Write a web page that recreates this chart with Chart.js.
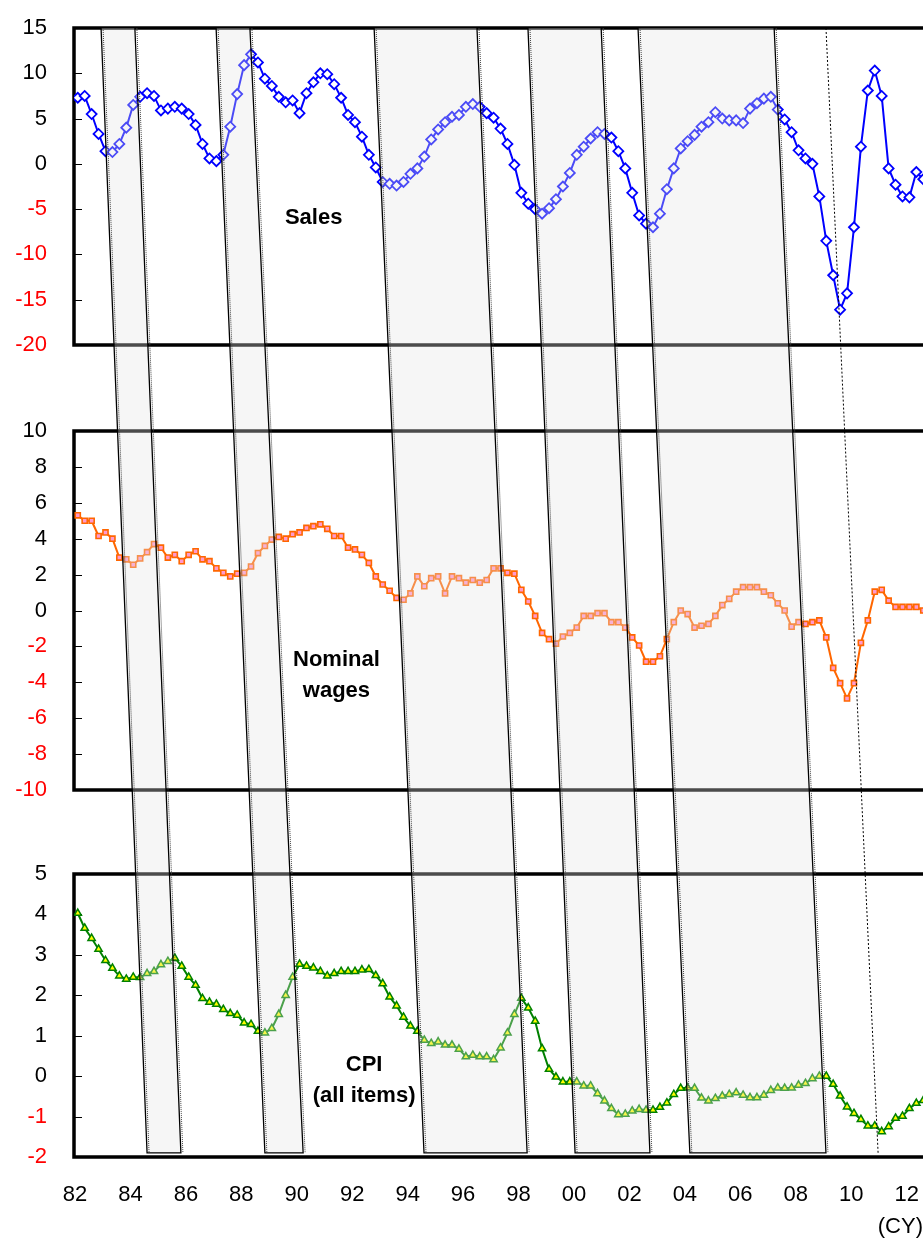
<!DOCTYPE html>
<html><head><meta charset="utf-8">
<script src="https://cdn.jsdelivr.net/npm/chart.js@4.4.0/dist/chart.umd.min.js"></script>
<style>html,body{margin:0;padding:0;background:#fff;overflow:hidden}#wrap{width:923px;height:1240px;position:relative}canvas{display:block}</style>
</head><body><div id="wrap"><canvas id="c" width="923" height="1240" style="width:923px;height:1240px"></canvas></div>
<script>
// ---- data (quarterly, first value = 1982 Q1) ----
const startYear = 1982;
const salesValues = [7.3,7.5,5.5,3.3,1.4,1.3,2.2,4.0,6.5,7.4,7.8,7.5,5.9,6.1,6.3,6.1,5.5,4.3,2.2,0.6,
  0.3,1.0,4.1,7.7,10.9,12.1,11.2,9.4,8.6,7.4,6.8,7.0,5.6,7.8,9.0,10.0,9.9,8.8,7.3,5.4,
  4.6,3.0,1.0,-0.4,-2.0,-2.2,-2.4,-2.0,-1.1,-0.5,0.8,2.7,3.8,4.6,5.2,5.4,6.3,6.6,6.3,5.6,
  5.1,3.9,2.2,-0.1,-3.2,-4.4,-5.0,-5.5,-4.9,-3.9,-2.5,-1.0,1.0,1.9,2.8,3.5,3.3,2.9,1.4,-0.5,
  -3.2,-5.7,-6.6,-7.0,-5.5,-2.8,-0.5,1.7,2.5,3.2,4.1,4.6,5.7,5.0,4.8,4.8,4.5,6.1,6.7,7.2,
  7.4,6.0,4.9,3.5,1.5,0.6,0.0,-3.6,-8.5,-12.3,-16.1,-14.3,-7.0,1.9,8.1,10.3,7.5,-0.5,-2.3,-3.6,
  -3.7,-0.9,-1.7];
const wagesValues = [5.3,5.0,5.0,4.15,4.35,4.0,2.95,2.85,2.55,2.9,3.25,3.7,3.5,2.95,3.1,2.75,3.1,3.3,2.85,2.75,
  2.35,2.1,1.9,2.05,2.1,2.45,3.2,3.6,3.95,4.1,4.0,4.25,4.35,4.6,4.7,4.8,4.55,4.15,4.15,3.5,
  3.4,3.1,2.65,1.9,1.45,1.1,0.7,0.6,0.95,1.9,1.35,1.8,1.9,0.95,1.9,1.8,1.55,1.7,1.55,1.7,
  2.35,2.35,2.1,2.05,1.15,0.5,-0.3,-1.25,-1.6,-1.85,-1.45,-1.25,-0.95,-0.3,-0.3,-0.15,-0.15,-0.65,-0.65,-0.95,
  -1.5,-1.95,-2.85,-2.85,-2.55,-1.6,-0.65,0.0,-0.2,-0.95,-0.85,-0.75,-0.3,0.3,0.65,1.05,1.3,1.3,1.3,1.05,
  0.85,0.4,0.0,-0.9,-0.65,-0.75,-0.65,-0.55,-1.5,-3.2,-4.05,-4.9,-4.05,-1.8,-0.55,1.05,1.15,0.55,0.2,0.2,
  0.2,0.2,0.0];
const cpiValues = [4.03,3.66,3.41,3.14,2.86,2.67,2.48,2.40,2.45,2.44,2.54,2.59,2.76,2.84,2.92,2.72,2.45,2.25,1.92,1.83,
  1.78,1.65,1.55,1.51,1.32,1.28,1.11,1.07,1.18,1.53,2.0,2.45,2.77,2.72,2.68,2.59,2.48,2.54,2.59,2.59,
  2.59,2.63,2.64,2.49,2.29,1.96,1.74,1.46,1.24,1.11,0.89,0.81,0.85,0.77,0.77,0.67,0.48,0.52,0.48,0.48,
  0.41,0.70,1.07,1.53,1.93,1.69,1.36,0.68,0.17,-0.02,-0.14,-0.14,-0.14,-0.24,-0.24,-0.43,-0.61,-0.80,-0.95,-0.94,
  -0.86,-0.82,-0.84,-0.84,-0.77,-0.66,-0.45,-0.30,-0.29,-0.30,-0.54,-0.61,-0.55,-0.49,-0.45,-0.41,-0.47,-0.53,-0.53,-0.47,
  -0.35,-0.29,-0.30,-0.29,-0.22,-0.18,-0.06,0.0,0.0,-0.2,-0.49,-0.76,-0.92,-1.07,-1.23,-1.23,-1.37,-1.25,-1.04,-0.99,
  -0.80,-0.67,-0.6];
const xTickYears  = [1982,1984,1986,1988,1990,1992,1994,1996,1998,2000,2002,2004,2006,2008,2010,2012];
const xTickLabels = ['82','84','86','88','90','92','94','96','98','00','02','04','06','08','10','12'];
// lead-lag bands (years): top edge in Sales panel, bottom edge in CPI panel
const bandTopStart    = [1982.94,1987.09,1992.79,1998.34,2002.31];
const bandTopEnd      = [1984.16,1988.31,1996.50,2000.98,2007.22];
const bandBottomStart = [1984.60,1988.85,1994.59,2000.04,2004.18];
const bandBottomEnd   = [1985.82,1990.23,1998.31,2002.74,2009.09];
const dottedTop = 2009.09, dottedBottom = 2010.97;
const bandTopValue = 15, bandBottomValue = -1.9;

const FONT = "'Liberation Sans', Arial, sans-serif";
Chart.defaults.font.family = FONT;
Chart.defaults.color = '#000';

const qx = i => startYear + 0.1 + i / 4;
const toXY = arr => arr.map((v, i) => ({x: qx(i), y: v}));

const tickColor = c => (c.tick && c.tick.value < 0) ? '#ff0000' : '#000000';
const fitY = s => { s.width = 74; s.paddingTop = 0; s.paddingBottom = 0; };
function yAxis(min, max, step, stackWeight, weight) {
  return {
    type: 'linear', position: 'left', stack: 'panels', stackWeight, weight, min, max,
    afterFit: fitY,
    grid: {display: false, drawTicks: false},
    border: {display: false},
    ticks: {stepSize: step, padding: 27, color: tickColor, font: {size: 22}, autoSkip: false}
  };
}
function spacer(stackWeight, weight) {
  return {
    type: 'linear', position: 'left', stack: 'panels', stackWeight, weight, min: 0, max: 1,
    afterFit: fitY,
    grid: {display: false, drawTicks: false}, border: {display: false}, ticks: {display: false}
  };
}

const panelPlugin = {
  id: 'panels',
  beforeDatasetsDraw(chart) {
    const ctx = chart.ctx, xs = chart.scales.x;
    const L = xs.left, R = xs.right;
    ctx.save();
    for (const id of ['ySales', 'yWages', 'yCPI']) {
      const s = chart.scales[id];
      ctx.strokeStyle = '#000';
      ctx.lineWidth = 1;
      for (const t of s.ticks) {
        const y = Math.round(s.getPixelForValue(t.value)) + 0.5;
        ctx.beginPath(); ctx.moveTo(L, y); ctx.lineTo(L + 8, y); ctx.stroke();
      }
      ctx.lineWidth = 3.5;
      ctx.beginPath();
      ctx.moveTo(R + 5, s.top); ctx.lineTo(L, s.top); ctx.lineTo(L, s.bottom); ctx.lineTo(R + 5, s.bottom);
      ctx.stroke();
    }
    ctx.restore();
  },
  afterDatasetsDraw(chart) {
    const ctx = chart.ctx, xs = chart.scales.x;
    const yT = chart.scales.ySales.getPixelForValue(bandTopValue);
    const yB = chart.scales.yCPI.getPixelForValue(bandBottomValue);
    ctx.save();
    for (let i = 0; i < bandTopStart.length; i++) {
      const a = xs.getPixelForValue(bandTopStart[i]);
      const b = xs.getPixelForValue(bandTopEnd[i]);
      const c = xs.getPixelForValue(bandBottomEnd[i]);
      const d = xs.getPixelForValue(bandBottomStart[i]);
      ctx.beginPath();
      ctx.moveTo(a, yT); ctx.lineTo(b, yT); ctx.lineTo(c, yB); ctx.lineTo(d, yB); ctx.closePath();
      ctx.fillStyle = 'rgba(228,228,228,0.33)';
      ctx.fill();
      ctx.setLineDash([1, 1]);
      ctx.strokeStyle = '#444'; ctx.lineWidth = 1;
      ctx.beginPath();
      ctx.moveTo(a + 2, yT); ctx.lineTo(d + 2, yB);
      ctx.moveTo(b + 2, yT); ctx.lineTo(c + 2, yB);
      ctx.stroke();
      ctx.setLineDash([]);
      ctx.strokeStyle = '#000'; ctx.lineWidth = 1.3;
      ctx.beginPath();
      ctx.moveTo(a, yT); ctx.lineTo(d, yB); ctx.lineTo(c, yB); ctx.lineTo(b, yT);
      ctx.stroke();
    }
    ctx.setLineDash([2, 2]);
    ctx.strokeStyle = '#000'; ctx.lineWidth = 1;
    ctx.beginPath();
    ctx.moveTo(xs.getPixelForValue(dottedTop), yT);
    ctx.lineTo(xs.getPixelForValue(dottedBottom), yB);
    ctx.stroke();
    ctx.setLineDash([]);
    ctx.fillStyle = '#000';
    ctx.font = 'bold 22px ' + FONT;
    ctx.textAlign = 'center'; ctx.textBaseline = 'middle';
    const put = (lines, xv, scale, yv) => {
      const cx = xs.getPixelForValue(xv), cy = chart.scales[scale].getPixelForValue(yv);
      const lh = 31, y0 = cy - (lines.length - 1) * lh / 2;
      lines.forEach((t, k) => ctx.fillText(t, cx, y0 + k * lh));
    };
    put(['Sales'], 1990.61, 'ySales', -6.0);
    put(['Nominal', 'wages'], 1991.43, 'yWages', -3.6);
    put(['CPI', '(all items)'], 1992.43, 'yCPI', -0.1);
    ctx.restore();
  }
};

const chart = new Chart(document.getElementById('c'), {
  type: 'line',
  data: {
    datasets: [
      {label: 'Sales', data: toXY(salesValues), yAxisID: 'ySales', borderColor: '#0000ff', borderWidth: 2,
       pointStyle: 'rectRot', pointRadius: 5, pointBorderWidth: 1.8, pointBackgroundColor: '#ffffff', pointBorderColor: '#0000ff', tension: 0},
      {label: 'Nominal wages', data: toXY(wagesValues), yAxisID: 'yWages', borderColor: '#ff6600', borderWidth: 2,
       pointStyle: 'rect', pointRadius: 3.6, pointBorderWidth: 1.6, pointBackgroundColor: '#ff99cc', pointBorderColor: '#ff6600', tension: 0},
      {label: 'CPI', data: toXY(cpiValues), yAxisID: 'yCPI', borderColor: '#008000', borderWidth: 2,
       pointStyle: 'triangle', pointRadius: 4.2, pointBorderWidth: 1.5, pointBackgroundColor: '#ffff00', pointBorderColor: '#008000', tension: 0}
    ]
  },
  options: {
    responsive: false, animation: false, devicePixelRatio: 1,
    layout: {autoPadding: false, padding: {top: 28, right: 0, bottom: 0, left: 0}},
    plugins: {legend: {display: false}, tooltip: {enabled: false}},
    scales: {
      x: {
        type: 'linear', position: 'bottom', min: 1981.964, max: 2012.59,
        grid: {display: false, drawTicks: false}, border: {display: false},
        afterBuildTicks: s => { s.ticks = xTickYears.map(v => ({value: v})); },
        afterFit: s => { s.height = 83; s.paddingLeft = 0; s.paddingRight = 0; },
        ticks: {autoSkip: false, maxRotation: 0, padding: 25, font: {size: 22},
                callback: (v) => xTickLabels[xTickYears.indexOf(v)]},
        title: {display: true, text: '(CY)', align: 'end', font: {size: 22}, padding: {top: 6, bottom: 0}}
      },
      ySales: yAxis(-20, 15, 5, 317, 5),
      gap1: spacer(86, 4),
      yWages: yAxis(-10, 10, 2, 359, 3),
      gap2: spacer(84, 2),
      yCPI: yAxis(-2, 5, 1, 283, 1)
    }
  },
  plugins: [panelPlugin]
});
</script></body></html>
